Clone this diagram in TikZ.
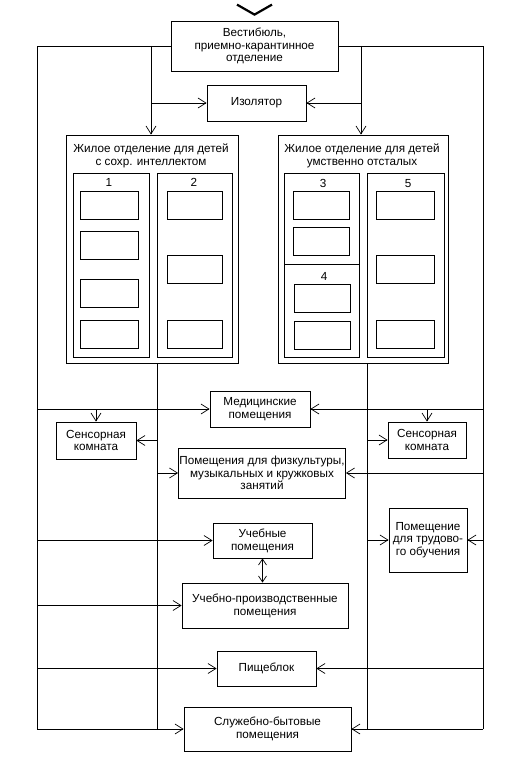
\documentclass[tikz,border=0pt]{standalone}
\usepackage{fontspec}
\setmainfont{Liberation Sans}
\usetikzlibrary{arrows.meta}
\begin{document}
\begin{tikzpicture}[x=1pt,y=-1pt,
  every node/.style={font=\fontsize{11.7}{12.8}\selectfont},
  box/.style={draw, line width=0.8pt, align=center, inner sep=1pt},
  sz/.style 2 args={minimum width=#1pt, minimum height=#2pt},
  room/.style={draw, line width=0.8pt, inner sep=0pt},
  wire/.style={line width=0.7pt},
  arr/.style={wire, -{Straight Barb[length=8pt,width=10pt]}},
  darr/.style={wire, {Straight Barb[length=6pt,width=8pt]}-{Straight Barb[length=6pt,width=8pt]}},
  title/.style={align=center, inner sep=0pt}]
\useasboundingbox (0,0) rectangle (517,760);

% main boxes
\node[box, sz={167}{50}] (vest) at (254.5,46) {Вестибюль,\\приемно-карантинное\\отделение};
\node[box, sz={99}{36}] (iso) at (256.5,103) {Изолятор};
\node[box, sz={172}{228}] (res1) at (152,249) {};
\node[box, sz={170}{228}] (res2) at (363,249) {};
\node[title] (t1) at (151,155.5) {Жилое отделение для детей\\с сохр. интеллектом};
\node[title] (t2) at (362,155.5) {Жилое отделение для детей\\умственно отсталых};

% columns
\node[box, sz={76}{184}] (c1) at (111,265) {};
\node[box, sz={75}{184}] (c2) at (194.5,265) {};
\node[box, sz={75}{91}] (c3) at (321.5,218.5) {};
\node[box, sz={75}{93}] (c4) at (321.5,310.5) {};
\node[box, sz={77}{184}] (c5) at (405.5,265) {};
\node[inner sep=0pt] (l1) at (109,182) {1};
\node[inner sep=0pt] (l2) at (194,182) {2};
\node[inner sep=0pt] (l3) at (323,183) {3};
\node[inner sep=0pt] (l4) at (324,276) {4};
\node[inner sep=0pt] (l5) at (408,184) {5};

% rooms
\node[room, sz={58}{28}] (r1a) at (109,205) {};
\node[room, sz={58}{28}] (r1b) at (109,245) {};
\node[room, sz={58}{28}] (r1c) at (109,293.5) {};
\node[room, sz={58}{28}] (r1d) at (109,334.5) {};
\node[room, sz={55}{28}] (r2a) at (194.5,205) {};
\node[room, sz={55}{28}] (r2b) at (194.5,269) {};
\node[room, sz={55}{28}] (r2c) at (194.5,334.5) {};
\node[room, sz={56}{28}] (r3a) at (321,205) {};
\node[room, sz={56}{28}] (r3b) at (321,241) {};
\node[room, sz={56}{28}] (r4a) at (322,298.5) {};
\node[room, sz={56}{28}] (r4b) at (322,335) {};
\node[room, sz={58}{28}] (r5a) at (405,205) {};
\node[room, sz={58}{28}] (r5b) at (405,269) {};
\node[room, sz={58}{28}] (r5c) at (405,334.5) {};

% lower boxes
\node[box, sz={100}{36}] (med) at (260,409) {Медицинские\\помещения};
\node[box, sz={80}{37}] (lsens) at (96,440.5) {Сенсорная\\комната};
\node[box, sz={78}{36}] (rsens) at (427,440) {Сенсорная\\комната};
\node[box, sz={166}{50}] (phys) at (262,473) {Помещения для физкультуры,\\музыкальных и кружковых\\занятий};
\node[box, sz={99}{35}] (ucheb) at (262.5,540.5) {Учебные\\помещения};
\node[box, sz={78}{64}] (trud) at (428,540) {Помещение\\для трудово-\\го обучения};
\node[box, sz={166}{45}] (uprod) at (265,605.5) {Учебно-производственные\\помещения};
\node[box, sz={99}{35}] (pish) at (266.5,668.5) {Пищеблок};
\node[box, sz={167}{44}] (serv) at (267.5,729) {Служебно-бытовые\\помещения};

% entrance chevron
\coordinate (chl) at ([shift={(-17.5,-16)}]vest.north);
\coordinate (chv) at ([shift={(0,-6)}]vest.north);
\coordinate (chr) at ([shift={(17.5,-16)}]vest.north);
\draw[line width=2.2pt] (chl) -- (chv) -- (chr);

% trunk lines
\coordinate (OLt) at (37,46);
\coordinate (OLb) at (37,729);
\coordinate (ORt) at (483,46);
\coordinate (ORb) at (483,729);
\coordinate (ILt) at (157,363);
\coordinate (ILb) at (157,729);
\coordinate (IRt) at (367,363);
\coordinate (IRb) at (367,729);
\coordinate (j1) at (151,46);
\coordinate (j2) at (361,46);

\draw[wire] (vest.west) -- (OLt) -- (OLb);
\draw[arr] (OLb) -- (serv.west);
\draw[wire] (vest.east) -- (ORt) -- (ORb);
\draw[arr] (ORb) -- (serv.east);
\draw[wire] (ILt) -- (ILb);
\draw[wire] (IRt) -- (IRb);

% connectors
\draw[arr] (j1) -- (j1 |- res1.north);
\draw[arr] (j2) -- (j2 |- res2.north);
\draw[arr] (j1 |- iso.west) -- (iso.west);
\draw[arr] (j2 |- iso.east) -- (iso.east);
\draw[arr] (OLt |- med.west) -- (med.west);
\draw[arr] (ORt |- med.east) -- (med.east);
\draw[arr] (lsens.north |- med.west) -- (lsens.north);
\draw[arr] (rsens.north |- med.east) -- (rsens.north);
\draw[arr] (ILt |- lsens.east) -- (lsens.east);
\draw[arr] (IRt |- rsens.west) -- (rsens.west);
\draw[arr] (ILt |- phys.west) -- (phys.west);
\draw[arr] (ORt |- phys.east) -- (phys.east);
\draw[arr] (OLt |- ucheb.west) -- (ucheb.west);
\draw[arr] (IRt |- trud.west) -- (trud.west);
\draw[arr] (ORt |- trud.east) -- (trud.east);
\draw[darr] (ucheb.south) -- (ucheb.south |- uprod.north);
\draw[arr] (OLt |- uprod.west) -- (uprod.west);
\draw[arr] (OLt |- pish.west) -- (pish.west);
\draw[arr] (ORt |- pish.east) -- (pish.east);
\end{tikzpicture}
\end{document}
